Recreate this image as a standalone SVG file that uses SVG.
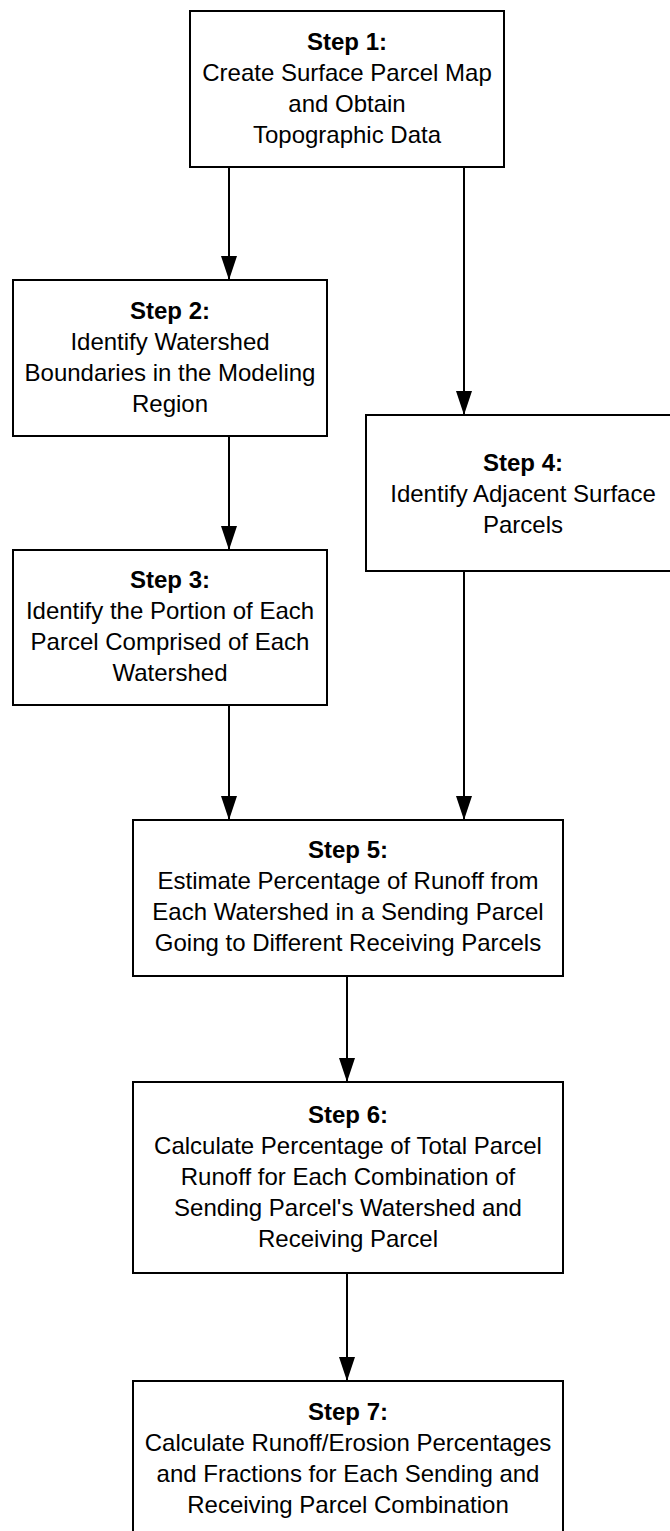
<svg xmlns="http://www.w3.org/2000/svg" width="670" height="1531" viewBox="0 0 670 1531">
<style>
.box{fill:#fff;stroke:#000;stroke-width:2}
.t{font-family:"Liberation Sans",Arial,sans-serif;font-size:24px;fill:#000;text-anchor:middle}
.b{font-weight:bold}
.c{stroke:#000;stroke-width:2;fill:none;marker-end:url(#ah)}
</style>
<defs>
<marker id="ah" markerUnits="userSpaceOnUse" markerWidth="24" markerHeight="16" refX="24" refY="8" orient="auto">
<path d="M0,0 L24,8 L0,16 z" fill="#000"/>
</marker>
</defs>
<rect width="670" height="1531" fill="#fff"/>
<g id="connectors">
<line class="c" x1="229" y1="167" x2="229" y2="280"/>
<line class="c" x1="464" y1="167" x2="464" y2="415"/>
<line class="c" x1="229" y1="436" x2="229" y2="550"/>
<line class="c" x1="229" y1="705" x2="229" y2="820"/>
<line class="c" x1="464" y1="571" x2="464" y2="820"/>
<line class="c" x1="347" y1="976" x2="347" y2="1082"/>
<line class="c" x1="347" y1="1273" x2="347" y2="1381"/>
</g>
<g id="step1">
<rect class="box" x="190" y="11" width="314" height="156"/>
<text class="t b" x="347" y="50">Step 1:</text>
<text class="t" x="347" y="81">Create Surface Parcel Map</text>
<text class="t" x="347" y="112">and Obtain</text>
<text class="t" x="347" y="143">Topographic Data</text>
</g>
<g id="step2">
<rect class="box" x="13" y="280" width="314" height="156"/>
<text class="t b" x="170" y="319">Step 2:</text>
<text class="t" x="170" y="350">Identify Watershed</text>
<text class="t" x="170" y="381">Boundaries in the Modeling</text>
<text class="t" x="170" y="412">Region</text>
</g>
<g id="step3">
<rect class="box" x="13" y="550" width="314" height="155"/>
<text class="t b" x="170" y="588">Step 3:</text>
<text class="t" x="170" y="619">Identify the Portion of Each</text>
<text class="t" x="170" y="650">Parcel Comprised of Each</text>
<text class="t" x="170" y="681">Watershed</text>
</g>
<g id="step4">
<rect class="box" x="366" y="415" width="314" height="156"/>
<text class="t b" x="523" y="471">Step 4:</text>
<text class="t" x="523" y="502">Identify Adjacent Surface</text>
<text class="t" x="523" y="533">Parcels</text>
</g>
<g id="step5">
<rect class="box" x="133" y="820" width="430" height="156"/>
<text class="t b" x="348" y="858">Step 5:</text>
<text class="t" x="348" y="889">Estimate Percentage of Runoff from</text>
<text class="t" x="348" y="920">Each Watershed in a Sending Parcel</text>
<text class="t" x="348" y="951">Going to Different Receiving Parcels</text>
</g>
<g id="step6">
<rect class="box" x="133" y="1082" width="430" height="191"/>
<text class="t b" x="348" y="1123">Step 6:</text>
<text class="t" x="348" y="1154">Calculate Percentage of Total Parcel</text>
<text class="t" x="348" y="1185">Runoff for Each Combination of</text>
<text class="t" x="348" y="1216">Sending Parcel's Watershed and</text>
<text class="t" x="348" y="1247">Receiving Parcel</text>
</g>
<g id="step7">
<rect class="box" x="133" y="1381" width="430" height="156"/>
<text class="t b" x="348" y="1420">Step 7:</text>
<text class="t" x="348" y="1451">Calculate Runoff/Erosion Percentages</text>
<text class="t" x="348" y="1482">and Fractions for Each Sending and</text>
<text class="t" x="348" y="1513">Receiving Parcel Combination</text>
</g>
</svg>
